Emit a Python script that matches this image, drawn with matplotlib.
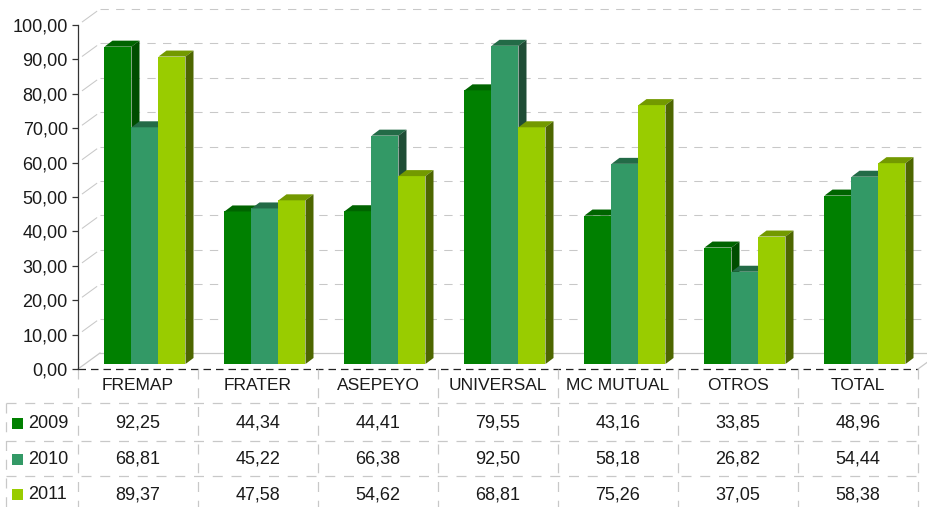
import matplotlib
matplotlib.use("Agg")
import matplotlib.pyplot as plt
from matplotlib.patches import Polygon, Rectangle
from matplotlib.ticker import FuncFormatter

# data
categories = ["FREMAP", "FRATER", "ASEPEYO", "UNIVERSAL", "MC MUTUAL", "OTROS", "TOTAL"]
years = ["2009", "2010", "2011"]
v2009 = [92.25, 44.34, 44.41, 79.55, 43.16, 33.85, 48.96]
v2010 = [68.81, 45.22, 66.38, 92.50, 58.18, 26.82, 54.44]
v2011 = [89.37, 47.58, 54.62, 68.81, 75.26, 37.05, 58.38]
series = [v2009, v2010, v2011]

# colours: front, top, side
front = ["#008000", "#339966", "#99cc00"]
top = ["#006400", "#236b47", "#739900"]
side = ["#004d00", "#1f4d36", "#4d6600"]

plt.rcParams['font.family'] = ['Liberation Sans', 'DejaVu Sans']
txt_col = "#1a1a1a"
grid_col = "#c8c8c8"

W, H = 928, 507
fig = plt.figure(figsize=(W / 100, H / 100), dpi=100)

# front plane of the chart in pixels
x0, x1, y0, y1 = 78, 918, 369, 25
ax = fig.add_axes([x0 / W, (H - y0) / H, (x1 - x0) / W, (y0 - y1) / H])
ax.set_xlim(0, len(categories))
ax.set_ylim(0, 100)

PX = len(categories) / (x1 - x0)   # data units per pixel, x
PY = 100 / (y0 - y1)               # data units per pixel, y
WX, WY = 22 * PX, 16 * PY          # back wall depth
FX, FY = 7 * PX, 5 * PY            # bar front offset
BX, BY = 8 * PX, 6 * PY            # bar depth
bw = 27 * PX
dash = (0, (8, 7))

# back wall grid and walls
for v in range(10, 101, 10):
    ax.plot([WX, len(categories) + WX + 0.2], [v + WY, v + WY], color=grid_col,
            lw=0.75, ls=dash, clip_on=False, zorder=1)
    ax.plot([0.2 * WX, 0.85 * WX], [v + 0.2 * WY, v + 0.85 * WY], color=grid_col,
            lw=0.75, clip_on=False, zorder=1)
ax.plot([WX, len(categories) + WX + 0.2], [WY, WY], color=grid_col, lw=0.9,
        clip_on=False, zorder=1)
ax.plot([0, WX], [0, WY], color=grid_col, lw=0.9, clip_on=False, zorder=1)
ax.plot([len(categories), len(categories) + WX], [0, WY], color=grid_col, lw=0.9,
        clip_on=False, zorder=1)

# bars
gap = (1 - 3 * bw) / 2
for j, vals in enumerate(series):
    lefts = [i + gap + FX + j * bw for i in range(len(categories))]
    z = 3 + j
    ax.bar(lefts, vals, width=bw, bottom=FY, align='edge', color=front[j],
           linewidth=0, zorder=z)
    for l, v in zip(lefts, vals):
        t = FY + v
        ax.add_patch(Polygon([(l, t), (l + bw, t), (l + bw + BX, t + BY), (l + BX, t + BY)],
                             closed=True, facecolor=top[j], lw=0, zorder=z))
        ax.add_patch(Polygon([(l + bw, FY), (l + bw + BX, FY + BY), (l + bw + BX, t + BY),
                              (l + bw, t)],
                             closed=True, facecolor=side[j], lw=0, zorder=z))

ax.set_yticks(range(0, 101, 10))
ax.yaxis.set_major_formatter(FuncFormatter(lambda v, p: f"{v:.2f}".replace(".", ",")))
ax.set_xticks([])
ax.tick_params(axis='y', length=4.3, width=0.9, color="#333333", pad=3,
               labelsize=13, labelcolor=txt_col)
for s in ["top", "right", "bottom"]:
    ax.spines[s].set_visible(False)
ax.spines["left"].set_color("#333333")
ax.spines["left"].set_linewidth(0.9)
ax.patch.set_alpha(0)

# data table in pixel coordinates
tax = fig.add_axes([0, 0, 1, 1], zorder=-1)
tax.set_xlim(0, W)
tax.set_ylim(H, 0)
tax.axis("off")

col_w = (x1 - x0) / len(categories)
rows_y = [403, 441, 476, H + 4]
tax.plot([x0, x1], [y0, y0], color="#222222", lw=0.9, ls=(0, (6, 4)))
for k in range(len(categories) + 1):
    tax.plot([x0 + k * col_w] * 2, [y0, H], color=grid_col, lw=0.9, ls=dash)
tax.plot([6, 6], [rows_y[0], H], color=grid_col, lw=0.9, ls=dash)
for y in rows_y[:3]:
    tax.plot([6, x1], [y, y], color=grid_col, lw=0.9, ls=dash)

for k, c in enumerate(categories):
    tax.text(x0 + (k + 0.5) * col_w, 385, c, ha="center", va="center",
             fontsize=12.5, color=txt_col)

for j, vals in enumerate(series):
    cy = (rows_y[j] + rows_y[j + 1]) / 2 + 1
    tax.add_patch(Rectangle((12, cy - 5.5), 11, 11, facecolor=front[j], lw=0))
    tax.text(28, cy, years[j], ha="left", va="center", fontsize=13, color=txt_col)
    for k, v in enumerate(vals):
        tax.text(x0 + (k + 0.5) * col_w, cy, f"{v:.2f}".replace(".", ","),
                 ha="center", va="center", fontsize=13, color=txt_col)

fig.savefig("out.png", dpi=100)
